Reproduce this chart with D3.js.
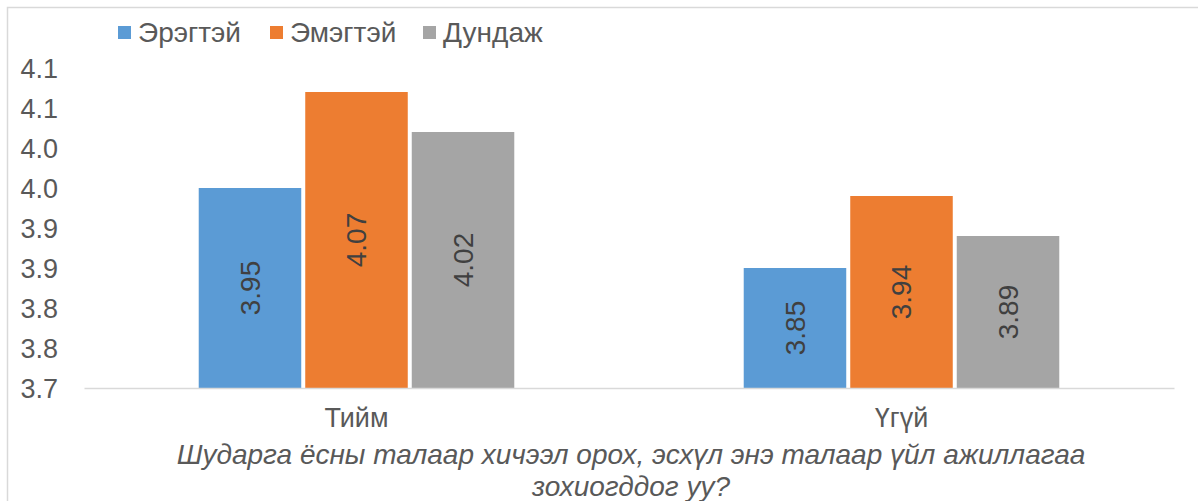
<!DOCTYPE html>
<html><head><meta charset="utf-8">
<script src="https://cdn.jsdelivr.net/npm/d3@7"></script>
<style>
html,body{margin:0;padding:0;background:#fff;}
svg{display:block;}
</style></head>
<body>
<svg id="chart" width="1198" height="501"></svg>
<script>
const categories = ["Тийм", "Үгүй"];
const seriesNames = ["Эрэгтэй", "Эмэгтэй", "Дундаж"];
const male = [3.95, 3.85];
const female = [4.07, 3.94];
const average = [4.02, 3.89];
const tickValues = [3.70, 3.75, 3.80, 3.85, 3.90, 3.95, 4.00, 4.05, 4.10];
const tickLabels = ["3.7", "3.8", "3.8", "3.9", "3.9", "4.0", "4.0", "4.1", "4.1"];
const titleLines = ["Шударга ёсны талаар хичээл орох, эсхүл энэ талаар үйл ажиллагаа", "зохиогддог уу?"];

(function () {
const colors = ["#5B9BD5", "#ED7D31", "#A5A5A5"];
const seriesValues = [male, female, average];
const font = "'Liberation Sans', Arial, sans-serif";

const svg = d3.select("#chart");
svg.append("rect").attr("x", 7.5).attr("y", 7.5).attr("width", 1250).attr("height", 600)
  .attr("fill", "#fff").attr("stroke", "#d9d9d9").attr("stroke-width", 1.5);

const pLeft = 84, pRight = 1174, pTop = 68, pBottom = 388;

const x0 = d3.scaleBand().domain(categories).range([pLeft, pRight])
  .paddingInner(0.421).paddingOuter(0.2105);
const x1 = d3.scaleBand().domain(seriesNames).range([0, x0.bandwidth()])
  .paddingInner(0.0376).paddingOuter(0);
const y = d3.scaleLinear().domain([3.7, 4.1]).range([pBottom, pTop]);

// y axis labels
const yAxis = d3.axisLeft(y).tickValues(tickValues).tickSize(0).tickPadding(0)
  .tickFormat((d, i) => tickLabels[i]);
const yg = svg.append("g").attr("transform", `translate(58,0)`).call(yAxis);
yg.select(".domain").remove();
yg.selectAll("text").attr("font-family", font).attr("font-size", 27).attr("fill", "#595959")
  .attr("dy", "0.35em");

// bars
const rowsFor = ci => seriesNames.map((s, si) => ({s, si, v: seriesValues[si][ci]}));
const groups = svg.append("g").selectAll("g").data(categories).join("g")
  .attr("transform", d => `translate(${x0(d)},0)`);
groups.selectAll("rect").data((c, ci) => rowsFor(ci))
  .join("rect")
  .attr("x", d => x1(d.s)).attr("width", x1.bandwidth())
  .attr("y", d => y(d.v)).attr("height", d => pBottom - y(d.v))
  .attr("fill", d => colors[d.si]);
groups.selectAll("text").data((c, ci) => rowsFor(ci))
  .join("text")
  .attr("transform", d => `translate(${x1(d.s) + x1.bandwidth() / 2},${(y(d.v) + pBottom) / 2}) rotate(-90)`)
  .attr("text-anchor", "middle").attr("dy", "0.35em")
  .attr("font-family", font).attr("font-size", 28).attr("fill", "#404040")
  .text(d => d.v.toFixed(2));

// x axis
const xAxis = d3.axisBottom(x0).tickSize(0).tickPadding(20);
const xg = svg.append("g").attr("transform", `translate(0,${pBottom})`).call(xAxis);
xg.select(".domain").attr("stroke", "#d9d9d9").attr("stroke-width", 1.5);
xg.selectAll("text").attr("font-family", font).attr("font-size", 27).attr("fill", "#595959");

// title
const cx = (pLeft + pRight) / 2 + 2;
svg.append("text").attr("x", cx).attr("y", 0).attr("text-anchor", "middle")
  .attr("font-family", font).attr("font-size", 28).attr("font-style", "italic").attr("fill", "#595959")
  .selectAll("tspan").data(titleLines).join("tspan")
  .attr("x", cx).attr("y", (d, i) => 464 + i * 32).text(d => d);

// legend
const legendX = [118, 270, 423];
const lg = svg.append("g").selectAll("g").data(seriesNames).join("g")
  .attr("transform", (d, i) => `translate(${legendX[i]},26)`);
lg.append("rect").attr("width", 13).attr("height", 13).attr("fill", (d, i) => colors[i]);
lg.append("text").attr("x", 20).attr("y", 6.5).attr("dy", "0.35em")
  .attr("font-family", font).attr("font-size", 28).attr("fill", "#595959").text(d => d);
})();
</script>
</body></html>
